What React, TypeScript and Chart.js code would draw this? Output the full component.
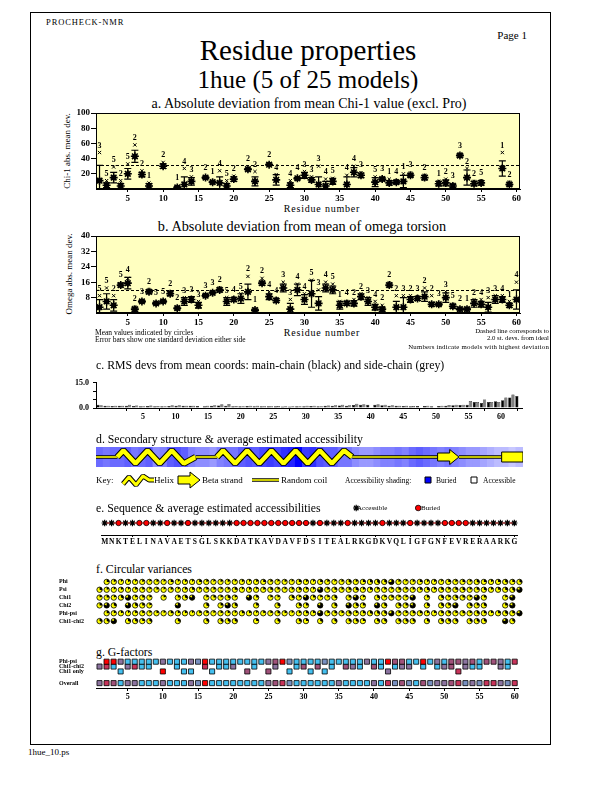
import React, { useEffect, useRef } from "react";
import { Chart, registerables } from "chart.js";

Chart.register(...registerables);

const SERIF = "'Liberation Serif', 'Times New Roman', Times, serif";
Chart.defaults.font.family = SERIF;
Chart.defaults.color = "#000";

// ---------------- DATA ----------------
const sequence = ["M","N","K","T","E","L","I","N","A","V","A","E","T","S","G","L","S","K","K","D","A","T","K","A","V","D","A","V","F","D","S","I","T","E","A","L","R","K","G","D","K","V","Q","L","I","G","F","G","N","F","E","V","R","E","R","A","A","R","K","G"];
const residueNumbers = sequence.map((_, i) => i + 1);
const xTicks = [5, 10, 15, 20, 25, 30, 35, 40, 45, 50, 55, 60];

// a. Chi-1
const chi1Residues = [1,2,3,4,5,6,7,8,10,12,13,14,16,17,18,19,20,22,23,25,26,28,29,30,31,32,33,34,36,37,38,40,41,42,43,44,45,47,49,50,51,52,53,54,55,58,59];
const chi1Mean = [11,5,15,4,20,43,19,4,30,2,6,10,15,9,8,4,13,26,10,32,12,5,14,18,12,6,4,10,6,22,18,9,13,8,9,10,18,15,7,8,4,44,15,7,8,27,6];
const chi1Sd = [20,3,7,3,7,8,3,3,3,1,10,5,1,1,8,3,3,1,6,1,7,3,1,4,3,10,6,4,10,6,3,6,2,3,2,8,2,3,3,4,2,2,10,3,3,10,2];
const chi1Max = [48,11,29,11,33,58,24,8,35,3,27,16,16,10,24,11,17,27,23,33,19,11,15,23,16,30,13,14,18,30,21,16,15,13,11,20,21,18,10,13,6,46,27,10,11,48,9];
const chi1Model = [3,5,5,2,5,2,2,1,2,1,4,3,2,1,4,5,2,2,2,2,4,4,4,3,3,3,4,5,4,4,3,5,3,1,4,1,3,2,1,2,3,3,2,2,5,1,2];
const chi1Cutoff = 32;
const chi1YTicks = [20, 40, 60, 80, 100];

// b. Omega
const omegaMean = [3,6,4,14.5,15.5,2,6,11,5,6,10,2.5,6,7,4,9,10.5,12,6,7,7.5,11,1.5,15.5,8.5,6.5,13,2,12,7,10,5,13,12,4,5,5,8.5,6,3,2,14.5,3,3,7,7.5,8.5,4.5,4.5,8,3.5,2,2,5,4.5,3,7,7,4,7];
const omegaSd = [4,4,3,1,3,1,0.5,1,0.5,0.5,1,0.5,2,1.5,1.5,0.5,0.5,1,2,1,2.5,4,0.5,1,1.5,1,2,3,3,2.5,7,3.5,2,2,2,1,1.5,1.5,2,1.5,1,1,3,5,1.5,1,2.5,1,0.5,2.5,1,0.5,0.5,2,1.5,2.5,2,1.5,1,5];
const omegaMax = [9,13,9,15,18,3,6.5,12,5.5,6.5,11,3,8,8,6,9.5,11,13,8,8,10,19,2,18,11,7.5,16,7,15,10,17,12,16,15,6,6,7,10,8,6,4,15.5,9,9,9,8.5,13,9,5,11,4.5,2.5,2.5,7,7,8,9,9,6,16];
const omegaModel = [5,5,2,5,4,2,3,2,5,5,2,2,3,3,3,3,3,2,5,4,5,2,1,2,4,4,3,3,4,4,5,3,4,5,1,4,2,2,3,4,2,2,2,3,2,3,2,2,3,3,5,2,1,2,4,3,3,4,1,4];
const omegaCutoff = 12;
const omegaYTicks = [8, 16, 24, 32, 40];

// c. RMS devs
const mainChainRms = [2.0,1.4,1.2,1.3,1.3,1.2,1.0,1.2,1.0,1.0,1.2,1.4,1.3,1.3,1.2,1.0,1.3,1.5,1.4,1.0,1.0,1.2,1.1,1.0,1.0,1.0,0.9,0.9,1.0,1.1,1.2,1.0,1.3,1.3,1.5,1.4,1.8,1.9,1.9,1.9,1.6,1.4,1.3,1.2,1.1,1.2,1.2,1.1,1.2,1.4,1.6,1.8,2.0,3.5,3.0,3.5,4.0,4.6,6.2,7.1];
const sideChainRms = [1.6,1.3,1.3,1.4,1.9,1.5,1.0,1.5,1.2,1.1,1.6,1.7,1.4,1.3,0,1.3,1.6,2.2,2.4,1.2,1.1,1.4,1.3,1.0,1.1,1.2,1.0,1.0,1.1,1.3,1.4,1.1,1.5,1.6,2.0,1.6,2.6,2.2,0,2.2,1.9,1.6,1.4,1.3,1.2,0,1.3,0,1.4,1.8,2.0,2.0,4.2,3.5,5.0,3.5,3.5,6.2,8.1,0];
const rmsYTicks = [0, 5, 10, 15];

// d. Secondary structure & burial shading (0 = accessible, 1 = buried)
const secondary = "CCCHHHHHHHHHHHCCCHHHHHHHHHHHHHHHHHHHCCCCCCCCCCCCEEECCCCCCEEE".split("");
const burial = [0.55,0.5,0.55,0.55,0.6,0.5,0.55,0.6,0.4,0.45,0.6,0.65,0.6,0.45,0.4,0.4,0.35,0.45,0.5,0.5,0.6,0.65,0.6,0.7,0.75,0.7,0.8,0.85,1.0,0.75,0.8,0.65,0.6,0.6,0.5,0.5,0.4,0.35,0.35,0.4,0.45,0.45,0.5,0.45,0.55,0.6,0.55,0.5,0.45,0.5,0.45,0.4,0.35,0.35,0.3,0.25,0.2,0.2,0.15,0.2];

// e. Buried residues
const buriedResidues = [3,6,7,10,13,20,21,22,23,24,25,26,27,28,29,30,32,36,41,45,50,51,52,53];

// f. Circular variances
const fRowLabels = ["Phi", "Psi", "Chi1", "Chi2", "Phi-psi", "Chi1-chi2"];
const phiResidues = residueNumbers.slice(1);
const psiResidues = residueNumbers;
const chi2Residues = [1,2,3,5,6,7,8,12,16,18,19,20,23,26,29,30,32,34,36,37,38,40,41,43,44,45,47,49,50,51,53,54,55,58,59];
const phiVar = [0.25,0.2,0.15,0.2,0.15,0.2,0.15,0.2,0.15,0.25,0.15,0.2,0.15,0.25,0.2,0.15,0.2,0.2,0.15,0.2,0.15,0.2,0.25,0.2,0.15,0.2,0.15,0.25,0.2,0.15,0.25,0.2,0.15,0.2,0.3,0.2,0.25,0.3,0.35,0.3,0.75,0.2,0.15,0.2,0.25,0.2,0.2,0.15,0.25,0.2,0.25,0.2,0.3,0.25,0.2,0.25,0.3,0.25,0.3];
const psiVar = [0.3,0.2,0.15,0.2,0.15,0.2,0.2,0.15,0.2,0.15,0.2,0.15,0.2,0.25,0.15,0.2,0.2,0.15,0.2,0.25,0.15,0.2,0.15,0.2,0.25,0.2,0.15,0.2,0.25,0.2,0.15,0.8,0.2,0.25,0.2,0.25,0.3,0.2,0.25,0.2,0.2,0.15,0.25,0.2,0.2,0.25,0.3,0.2,0.25,0.2,0.25,0.3,0.2,0.25,0.3,0.2,0.25,0.3,0.35,0.8];
const chi1Var = [0.2,0.25,0.2,0.3,0.75,0.2,0.25,0.2,0.2,0.25,0.3,0.8,0.2,0.25,0.2,0.3,0.2,0.8,0.25,0.2,0.2,0.3,0.2,0.8,0.25,0.2,0.2,0.3,0.25,0.8,0.2,0.3,0.2,0.25,0.2,0.2,0.8,0.25,0.3,0.2,0.3,0.25,0.2,0.8,0.25,0.2,0.8];
const chi2Var = [0.25,0.8,0.3,0.8,0.3,0.25,0.2,0.8,0.3,0.25,0.8,0.3,0.25,0.3,0.3,0.25,0.8,0.3,0.8,0.3,0.25,0.8,0.3,0.3,0.25,0.8,0.3,0.3,0.25,0.8,0.3,0.25,0.3,0.25,0.8];
const phiPsiVar = [0.25,0.2,0.2,0.15,0.2,0.2,0.15,0.2,0.15,0.25,0.2,0.2,0.15,0.2,0.2,0.15,0.2,0.2,0.15,0.25,0.2,0.15,0.2,0.2,0.25,0.2,0.15,0.2,0.25,0.2,0.8,0.2,0.25,0.2,0.3,0.2,0.25,0.3,0.3,0.3,0.75,0.2,0.2,0.25,0.25,0.2,0.2,0.25,0.25,0.2,0.25,0.2,0.3,0.25,0.2,0.25,0.3,0.25,0.8];
const chi12Var = [0.3,0.3,0.8,0.3,0.3,0.25,0.3,0.3,0.3,0.3,0.3,0.3,0.25,0.3,0.3,0.25,0.3,0.3,0.3,0.3,0.25,0.3,0.3,0.3,0.3,0.3,0.3,0.3,0.3,0.3,0.3,0.3,0.3,0.8,0.3];

// g. G-factors
const gRowLabels = ["Phi-psi", "Chi1-chi2", "Chi1 only", "Overall"];
const chi1OnlyResidues = [4,10,13,14,17,22,25,28,31,33,42,52];
const phiPsiG = [-1.2,-1.1,-0.4,0.2,0.2,0.2,0.2,0.2,-0.4,0.2,0.2,0.2,-0.4,-0.2,-1.2,0.2,0.2,0.2,0.2,0.2,0.2,0.2,0.2,-0.4,-0.6,-1.1,-0.2,0.2,0.2,0.2,0.2,-0.2,0.2,0.2,0.2,0.2,0.2,-0.4,0.2,0.2,-1.2,-0.6,-0.6,0.2,0.2,-1.2,0.2,-0.4,0.2,-0.6,-0.6,-0.4,-0.6,0.2,-0.6,-0.6,-0.4,0.2,-0.8];
const chi12G = [-0.4,-0.8,0.2,-0.4,-0.8,0.2,0.2,0.2,-0.8,0.2,0.2,-0.4,0.2,-0.4,0.2,-0.5,-0.5,0.2,-0.5,-0.4,0.2,-0.5,0.2,0.2,-0.4,-0.4,0.2,0.2,-0.4,-0.6,-0.4,0.2,0.2,-0.4,0.2];
const chi1OnlyG = [0.2,-1.2,0.2,0.2,0.2,-0.6,-0.6,0.2,0.2,0.2,-0.4,-0.8];
const overallG = [-0.45,-0.8,-0.6,0.1,-0.4,-0.4,0.1,0.1,0.1,-0.4,0.1,0.1,0.1,-0.4,-0.2,-1.2,0.1,0.1,0.1,0.1,0.1,0.1,0.1,0.1,-0.4,-0.6,-0.9,-0.2,0.1,0.1,0.1,0.1,0.1,0.1,-0.4,0.1,0.1,0.1,0.1,-0.4,0.1,-0.8,-0.2,-0.6,-0.2,0.1,-0.6,-0.2,-0.4,-0.4,-0.6,-0.8,-0.2,-0.4,-0.2,-0.7,-0.8,-0.4,-0.2,-0.8];

// ---------------- HELPERS ----------------
const YELLOW = "#ffffc0";

function shade(b: number) {
  const c = Math.round(235 * (1 - b));
  return `rgb(${c},${c},255)`;
}
function gColor(g: number) {
  if (g <= -1.0) return "#ff0000";
  if (g <= -0.7) return "#c8345a";
  if (g <= -0.5) return "#a0527a";
  if (g <= -0.3) return "#8c74a0";
  if (g <= -0.1) return "#7890c0";
  return "#44c0f0";
}

const baseOptions = {
  responsive: false,
  maintainAspectRatio: false,
  animation: false,
  events: [],
  plugins: { legend: { display: false }, tooltip: { enabled: false } },
};

function xResidueAxis(height: number, size = 9, tickLen = 3, display = true) {
  return {
    type: "linear",
    display,
    min: 0.5,
    max: 60.5,
    afterBuildTicks: (s: any) => { s.ticks = xTicks.map((value) => ({ value })); },
    afterFit: (s: any) => { s.height = height; },
    grid: { display: true, drawOnChartArea: false, drawTicks: true, tickLength: tickLen, color: "#000", lineWidth: 1 },
    border: { display: true, color: "#000", width: 1 },
    ticks: { color: "#000", font: { family: SERIF, size, weight: "bold" }, padding: 1, maxRotation: 0, autoSkip: false },
  };
}

function devPlugin(res: number[], mean: number[], sd: number[], max: number[], model: number[], cutoff: number) {
  return {
    id: "dev",
    beforeDraw(chart: any) {
      const { ctx, chartArea: a } = chart;
      ctx.save();
      ctx.fillStyle = YELLOW;
      ctx.fillRect(a.left, a.top, a.right - a.left, a.bottom - a.top);
      ctx.restore();
    },
    beforeDatasetsDraw(chart: any) {
      const { ctx, chartArea: a, scales } = chart;
      const xs = scales.x, ys = scales.y;
      ctx.save();
      ctx.strokeStyle = "#000";
      ctx.lineWidth = 1;
      ctx.setLineDash([3, 2]);
      const yc = Math.round(ys.getPixelForValue(cutoff)) + 0.5;
      ctx.beginPath();
      ctx.moveTo(a.left, yc);
      ctx.lineTo(a.right, yc);
      ctx.stroke();
      ctx.setLineDash([]);
      ctx.lineWidth = 1.2;
      res.forEach((r, i) => {
        const x = xs.getPixelForValue(r);
        const lo = Math.max(0, mean[i] - sd[i]);
        const hi = mean[i] + sd[i];
        const y1 = ys.getPixelForValue(lo);
        const y2 = ys.getPixelForValue(hi);
        ctx.beginPath();
        ctx.moveTo(x, y1);
        ctx.lineTo(x, y2);
        ctx.moveTo(x - 3.5, y2);
        ctx.lineTo(x + 3.5, y2);
        if (lo > 0) {
          ctx.moveTo(x - 3.5, y1);
          ctx.lineTo(x + 3.5, y1);
        }
        ctx.stroke();
      });
      ctx.restore();
    },
    afterDatasetsDraw(chart: any) {
      const { ctx, chartArea: a, scales } = chart;
      const xs = scales.x, ys = scales.y;
      ctx.save();
      ctx.fillStyle = "#000";
      ctx.font = `bold 8px ${SERIF}`;
      ctx.textAlign = "center";
      ctx.textBaseline = "bottom";
      res.forEach((r, i) => {
        const x = xs.getPixelForValue(r);
        const top = Math.min(ys.getPixelForValue(max[i]), ys.getPixelForValue(mean[i] + sd[i]), ys.getPixelForValue(mean[i]) - 3);
        ctx.fillText(String(model[i]), x, top - 3);
      });
      ctx.strokeStyle = "#000";
      ctx.lineWidth = 1;
      ctx.strokeRect(a.left + 0.5, a.top + 0.5, a.right - a.left - 1, a.bottom - a.top - 1);
      ctx.restore();
    },
  };
}

function devConfig(res: number[], mean: number[], sd: number[], max: number[], model: number[], cutoff: number, yMax: number, yTicks: number[]) {
  return () => ({
    type: "scatter",
    data: {
      datasets: [
        { data: res.map((r, i) => ({ x: r, y: max[i] })), pointStyle: "crossRot", pointRadius: 2.3, pointBorderColor: "#000", pointBorderWidth: 1, pointBackgroundColor: "#000" },
        { data: res.map((r, i) => ({ x: r, y: mean[i] })), pointStyle: "star", pointRadius: 4, pointBorderColor: "#000", pointBorderWidth: 1.6, pointBackgroundColor: "#000" },
        { data: res.map((r, i) => ({ x: r, y: mean[i] })), pointStyle: "circle", pointRadius: 2.6, pointBorderColor: "#000", pointBorderWidth: 0, pointBackgroundColor: "#000" },
      ],
    },
    options: {
      ...baseOptions,
      layout: { padding: { top: 8, right: 10, left: 0, bottom: 0 } },
      scales: {
        x: xResidueAxis(21, 9, 3),
        y: {
          type: "linear",
          min: 0,
          max: yMax,
          afterBuildTicks: (s: any) => { s.ticks = yTicks.map((value) => ({ value })); },
          afterFit: (s: any) => { s.width = 46; },
          grid: { display: true, drawOnChartArea: false, drawTicks: true, tickLength: 5, color: "#000" },
          border: { display: true, color: "#000" },
          ticks: { color: "#000", font: { family: SERIF, size: 9, weight: "bold" }, padding: 1, autoSkip: false },
        },
      },
    },
    plugins: [devPlugin(res, mean, sd, max, model, cutoff)],
  });
}

function rmsConfig() {
  return {
    type: "bar",
    data: {
      labels: sequence,
      datasets: [
        { data: mainChainRms, backgroundColor: "#000", borderColor: "#000", borderWidth: 0.5, categoryPercentage: 0.9, barPercentage: 1.0 },
        { data: sideChainRms, backgroundColor: "#808080", borderColor: "#000", borderWidth: 0.5, categoryPercentage: 0.9, barPercentage: 1.0 },
      ],
    },
    options: {
      ...baseOptions,
      layout: { padding: { top: 8, right: 8, left: 0, bottom: 0 } },
      scales: {
        x: { type: "category", display: false, offset: true },
        x2: { ...xResidueAxis(14, 8, 3), position: "bottom" },
        y: {
          type: "linear",
          min: 0,
          max: 15,
          afterBuildTicks: (s: any) => { s.ticks = rmsYTicks.map((value) => ({ value })); },
          afterFit: (s: any) => { s.width = 46; },
          grid: { display: true, drawOnChartArea: false, drawTicks: true, tickLength: 3, color: "#000" },
          border: { display: true, color: "#000" },
          ticks: {
            color: "#000",
            font: { family: SERIF, size: 8, weight: "bold" },
            padding: 4,
            autoSkip: false,
            callback: (v: number) => (v === 0 || v === 15 ? v.toFixed(1) : ""),
          },
        },
      },
    },
  };
}

function strokeFill(ctx: any, pts: number[][], outer: number, inner: number) {
  ctx.lineJoin = "bevel";
  ctx.beginPath();
  pts.forEach(([x, y], k) => (k ? ctx.lineTo(x, y) : ctx.moveTo(x, y)));
  ctx.strokeStyle = "#000";
  ctx.lineWidth = outer;
  ctx.stroke();
  ctx.strokeStyle = "#ffff00";
  ctx.lineWidth = inner;
  ctx.stroke();
}

function drawHelix(ctx: any, x0: number, x1: number, top: number, bot: number, period: number) {
  const mid = (top + bot) / 2;
  const pts: number[][] = [[x0, mid]];
  let x = x0 + period / 4;
  let up = true;
  while (x < x1 - period / 8) {
    pts.push([x, up ? top : bot]);
    up = !up;
    x += period / 2;
  }
  pts.push([x1, mid]);
  strokeFill(ctx, pts, 6.5, 4.5);
}

function drawStrand(ctx: any, x0: number, x1: number, mid: number, arrow: boolean, w: number) {
  ctx.beginPath();
  if (arrow) {
    const hl = Math.min(1.3 * w, (x1 - x0) * 0.5);
    ctx.moveTo(x0, mid - 4);
    ctx.lineTo(x1 - hl, mid - 4);
    ctx.lineTo(x1 - hl, mid - 7.5);
    ctx.lineTo(x1, mid);
    ctx.lineTo(x1 - hl, mid + 7.5);
    ctx.lineTo(x1 - hl, mid + 4);
    ctx.lineTo(x0, mid + 4);
    ctx.closePath();
  } else {
    ctx.rect(x0, mid - 5, x1 - x0, 10);
  }
  ctx.fillStyle = "#ffff00";
  ctx.fill();
  ctx.strokeStyle = "#000";
  ctx.lineWidth = 1;
  ctx.stroke();
}

const ssPlugin = {
  id: "ss",
  afterDatasetsDraw(chart: any) {
    const { ctx, chartArea: a } = chart;
    const xs = chart.scales.x;
    const w = xs.getPixelForValue(1) - xs.getPixelForValue(0);
    const mid = (a.top + a.bottom) / 2;
    ctx.save();
    let i = 0;
    while (i < secondary.length) {
      let j = i;
      while (j + 1 < secondary.length && secondary[j + 1] === secondary[i]) j++;
      const x0 = xs.getPixelForValue(i) - w / 2;
      const x1 = xs.getPixelForValue(j) + w / 2;
      const t = secondary[i];
      if (t === "C") strokeFill(ctx, [[x0, mid], [x1, mid]], 3.5, 1.6);
      else if (t === "H") drawHelix(ctx, x0, x1, a.top + 3.5, a.bottom - 3.5, w * 3.4);
      else drawStrand(ctx, x0, x1, mid, j < secondary.length - 1, w);
      i = j + 1;
    }
    // key glyphs
    const kx = a.left;
    const ky = a.bottom + 13;
    strokeFill(ctx, [[kx + 27, ky + 4], [kx + 33, ky - 3], [kx + 40, ky + 5], [kx + 47, ky - 4], [kx + 53, ky], [kx + 58, ky]], 5, 3);
    ctx.beginPath();
    ctx.moveTo(kx + 82, ky - 4);
    ctx.lineTo(kx + 94, ky - 4);
    ctx.lineTo(kx + 94, ky - 8);
    ctx.lineTo(kx + 104, ky);
    ctx.lineTo(kx + 94, ky + 8);
    ctx.lineTo(kx + 94, ky + 4);
    ctx.lineTo(kx + 82, ky + 4);
    ctx.closePath();
    ctx.fillStyle = "#ffff00";
    ctx.fill();
    ctx.strokeStyle = "#000";
    ctx.lineWidth = 1;
    ctx.stroke();
    strokeFill(ctx, [[kx + 156, ky], [kx + 183, ky]], 3.5, 1.6);
    ctx.fillStyle = "#0000ff";
    ctx.fillRect(kx + 329, ky - 3, 6, 6);
    ctx.strokeStyle = "#000";
    ctx.lineWidth = 1;
    ctx.strokeRect(kx + 329, ky - 3, 6, 6);
    ctx.fillStyle = "#fff";
    ctx.fillRect(kx + 375, ky - 3, 6, 6);
    ctx.strokeRect(kx + 375, ky - 3, 6, 6);
    ctx.restore();
  },
};

function ssConfig() {
  return {
    type: "bar",
    data: {
      labels: sequence,
      datasets: [
        { data: sequence.map(() => 1), backgroundColor: burial.map(shade), borderWidth: 0, barPercentage: 1, categoryPercentage: 1 },
      ],
    },
    options: {
      ...baseOptions,
      layout: { padding: { top: 0, right: 0, left: 0, bottom: 22 } },
      scales: {
        x: { type: "category", display: false, offset: true },
        y: { type: "linear", display: false, min: 0, max: 1 },
      },
    },
    plugins: [ssPlugin],
  };
}

function drawStar(ctx: any, x: number, y: number, r: number) {
  ctx.beginPath();
  for (let k = 0; k < 4; k++) {
    const ang = (k * Math.PI) / 4;
    ctx.moveTo(x - r * Math.cos(ang), y - r * Math.sin(ang));
    ctx.lineTo(x + r * Math.cos(ang), y + r * Math.sin(ang));
  }
  ctx.strokeStyle = "#000";
  ctx.lineWidth = 1.2;
  ctx.stroke();
}

const seqLegendPlugin = {
  id: "seqLegend",
  afterDraw(chart: any) {
    const { ctx, chartArea: a } = chart;
    ctx.save();
    drawStar(ctx, a.left + 255, a.top - 9, 3.2);
    ctx.beginPath();
    ctx.arc(a.left + 317, a.top - 9, 2.8, 0, Math.PI * 2);
    ctx.fillStyle = "#ff0000";
    ctx.fill();
    ctx.strokeStyle = "#000";
    ctx.lineWidth = 0.8;
    ctx.stroke();
    ctx.restore();
  },
};

function seqConfig() {
  const isBuried = (i: number) => buriedResidues.includes(i + 1);
  return {
    type: "scatter",
    data: {
      datasets: [
        {
          data: residueNumbers.map((r) => ({ x: r, y: 0 })),
          showLine: true,
          borderColor: "#ff0000",
          borderWidth: 1,
          pointStyle: (c: any) => (isBuried(c.dataIndex) ? "circle" : "star"),
          pointRadius: (c: any) => (isBuried(c.dataIndex) ? 2.7 : 3.2),
          pointBackgroundColor: (c: any) => (isBuried(c.dataIndex) ? "#ff0000" : "#000"),
          pointBorderColor: "#000",
          pointBorderWidth: (c: any) => (isBuried(c.dataIndex) ? 0.8 : 1.2),
        },
      ],
    },
    options: {
      ...baseOptions,
      layout: { padding: { top: 15, right: 0, left: 0, bottom: 0 } },
      scales: {
        x: { type: "linear", display: false, min: 0.5, max: 60.5 },
        x2: {
          type: "category",
          labels: sequence,
          position: "bottom",
          offset: true,
          afterFit: (s: any) => { s.height = 13; },
          grid: {
            display: true,
            drawOnChartArea: false,
            drawTicks: true,
            tickLength: 2,
            offset: false,
            color: (c: any) => ((c.index + 1) % 5 === 0 ? "#000" : "rgba(0,0,0,0)"),
          },
          border: { display: true, color: "#000", width: 1 },
          ticks: { color: "#000", font: { family: SERIF, size: 7.5, weight: "bold" }, padding: 1, autoSkip: false, maxRotation: 0 },
        },
        y: { type: "linear", display: false, min: -2, max: 1 },
      },
    },
    plugins: [seqLegendPlugin],
  };
}

const cvPlugin = {
  id: "cv",
  afterDatasetsDraw(chart: any) {
    const ctx = chart.ctx;
    ctx.save();
    chart.data.datasets.forEach((ds: any, di: number) => {
      const meta = chart.getDatasetMeta(di);
      meta.data.forEach((el: any, i: number) => {
        const v = ds.data[i].v;
        const x = el.x, y = el.y, r = 2.7;
        ctx.beginPath();
        ctx.arc(x, y, r, 0, Math.PI * 2);
        ctx.fillStyle = "#ffff00";
        ctx.fill();
        ctx.beginPath();
        ctx.moveTo(x, y);
        ctx.arc(x, y, r, -Math.PI / 2, -Math.PI / 2 + v * Math.PI * 2);
        ctx.closePath();
        ctx.fillStyle = "#000";
        ctx.fill();
        ctx.beginPath();
        ctx.arc(x, y, r, 0, Math.PI * 2);
        ctx.strokeStyle = "#000";
        ctx.lineWidth = 0.8;
        ctx.stroke();
      });
    });
    ctx.restore();
  },
};

function rowAxis(labels: string[], positions: number[], min: number, max: number, width: number) {
  return {
    type: "linear",
    reverse: true,
    min,
    max,
    afterBuildTicks: (s: any) => { s.ticks = positions.map((value) => ({ value })); },
    afterFit: (s: any) => { s.width = width; },
    grid: { display: false },
    border: { display: false },
    ticks: {
      color: "#000",
      font: { family: SERIF, size: 6, weight: "bold" },
      padding: 0,
      crossAlign: "far",
      autoSkip: false,
      callback: (_v: number, idx: number) => labels[idx],
    },
  };
}

function cvConfig() {
  const rows = [
    { res: phiResidues, v: phiVar },
    { res: psiResidues, v: psiVar },
    { res: chi1Residues, v: chi1Var },
    { res: chi2Residues, v: chi2Var },
    { res: phiResidues, v: phiPsiVar },
    { res: chi2Residues, v: chi12Var },
  ];
  return {
    type: "scatter",
    data: {
      datasets: rows.map((row, k) => ({
        data: row.res.map((r, i) => ({ x: r, y: k + 1, v: row.v[i] })),
        pointRadius: 0,
      })),
    },
    options: {
      ...baseOptions,
      layout: { padding: { top: 4, right: 0, left: 0, bottom: 4 } },
      scales: {
        x: { type: "linear", display: false, min: 0.5, max: 60.5 },
        y: rowAxis(fRowLabels, [1, 2, 3, 4, 5, 6], 0.5, 6.5, 37),
      },
    },
    plugins: [cvPlugin],
  };
}

function gConfig() {
  const rows = [
    { res: phiResidues, g: phiPsiG, y: 1 },
    { res: chi2Residues, g: chi12G, y: 2 },
    { res: chi1OnlyResidues, g: chi1OnlyG, y: 3 },
    { res: residueNumbers, g: overallG, y: 5.4 },
  ];
  return {
    type: "scatter",
    data: {
      datasets: rows.map((row) => ({
        data: row.res.map((r, i) => ({ x: r, y: row.y, g: row.g[i] })),
        pointStyle: "rect",
        pointRadius: 3.6,
        pointBackgroundColor: (c: any) => gColor(c.raw ? c.raw.g : 0),
        pointBorderColor: "#000",
        pointBorderWidth: 0.8,
      })),
    },
    options: {
      ...baseOptions,
      layout: { padding: { top: 4, right: 0, left: 0, bottom: 0 } },
      scales: {
        x: xResidueAxis(14, 8, 3),
        y: rowAxis(gRowLabels, rows.map((r) => r.y), 0, 6.4, 37),
      },
    },
  };
}

// ---------------- COMPONENTS ----------------
function ChartBox({ x, y, w, h, make }: { x: number; y: number; w: number; h: number; make: () => any }) {
  const ref = useRef<HTMLCanvasElement | null>(null);
  useEffect(() => {
    if (!ref.current) return;
    const chart = new Chart(ref.current, make());
    return () => chart.destroy();
  }, []);
  return (
    <div style={{ position: "absolute", left: x, top: y, width: w, height: h }}>
      <canvas ref={ref} width={w} height={h} style={{ width: w, height: h, display: "block" }} />
    </div>
  );
}

function Txt({ x, y, size, text, align = "left", bold = false, spacing = 0 }: any) {
  const tx = align === "center" ? "-50%" : align === "right" ? "-100%" : "0";
  return (
    <div
      style={{
        position: "absolute",
        left: x,
        top: y - size * 0.6,
        fontFamily: SERIF,
        fontSize: size,
        lineHeight: `${size * 1.2}px`,
        whiteSpace: "nowrap",
        fontWeight: bold ? "bold" : "normal",
        letterSpacing: spacing,
        transform: `translateX(${tx})`,
        color: "#000",
      }}
    >
      {text}
    </div>
  );
}

function RotTxt({ x, y, size, text }: any) {
  return (
    <div
      style={{
        position: "absolute",
        left: x,
        top: y,
        fontFamily: SERIF,
        fontSize: size,
        lineHeight: `${size * 1.2}px`,
        whiteSpace: "nowrap",
        transform: "translate(-50%, -50%) rotate(-90deg)",
        color: "#000",
      }}
    >
      {text}
    </div>
  );
}

export default function App() {
  return (
    <div style={{ position: "absolute", left: 0, top: 0, width: 612, height: 792, background: "#fff", overflow: "hidden" }}>
      <div style={{ position: "absolute", left: 30, top: 12, width: 521, height: 733, border: "1px solid #000", boxSizing: "border-box" }} />
      <Txt x={46} y={22} size={8.5} text="PROCHECK-NMR" spacing={0.9} />
      <Txt x={527} y={36} size={11} text="Page  1" align="right" />
      <Txt x={308} y={50} size={29} text="Residue properties" align="center" />
      <Txt x={308} y={80} size={25} text="1hue (5 of 25 models)" align="center" />

      <Txt x={309} y={104} size={14} text="a. Absolute deviation from mean Chi-1 value (excl. Pro)" align="center" />
      <RotTxt x={67} y={151} size={9} text="Chi-1 abs. mean dev." />
      <Txt x={322} y={209} size={10} text="Residue number" align="center" spacing={0.8} />
      <ChartBox x={50} y={105} w={480} h={105} make={devConfig(chi1Residues, chi1Mean, chi1Sd, chi1Max, chi1Model, chi1Cutoff, 100, chi1YTicks)} />

      <Txt x={302} y={227} size={14.3} text="b. Absolute deviation from mean of omega torsion" align="center" />
      <RotTxt x={69} y={274} size={9} text="Omega abs. mean dev." />
      <Txt x={322} y={333} size={10} text="Residue number" align="center" spacing={0.8} />
      <ChartBox x={50} y={228} w={480} h={106} make={devConfig(residueNumbers, omegaMean, omegaSd, omegaMax, omegaModel, omegaCutoff, 40, omegaYTicks)} />
      <Txt x={95} y={332} size={7.5} text="Mean values indicated by circles" />
      <Txt x={95} y={339} size={7.5} text="Error bars show one standard deviation either side" />
      <Txt x={549} y={331} size={6.8} text="Dashed line corresponds to" align="right" />
      <Txt x={549} y={338} size={6.8} text="2.0 st. devs. from ideal" align="right" />
      <Txt x={549} y={347} size={6.8} text="Numbers indicate models with highest deviation" align="right" spacing={0.2} />

      <Txt x={96} y={365} size={11.8} text="c. RMS devs from mean coords: main-chain (black) and side-chain (grey)" />
      <ChartBox x={50} y={374} w={480} h={48} make={rmsConfig} />

      <Txt x={96} y={439} size={11.8} text="d. Secondary structure & average estimated accessibility" />
      <ChartBox x={96} y={447} w={427} h={42} make={ssConfig} />
      <Txt x={96} y={480} size={9} text="Key:" />
      <Txt x={154} y={480} size={9} text="Helix" />
      <Txt x={202} y={480} size={9} text="Beta strand" />
      <Txt x={281} y={480} size={9} text="Random  coil" />
      <Txt x={345} y={480} size={7.5} text="Accessibility shading:" />
      <Txt x={436} y={480} size={7.5} text="Buried" />
      <Txt x={483} y={480} size={7.5} text="Accessible" />

      <Txt x={96} y={508} size={11.8} text="e. Sequence & average estimated accessibilities" />
      <Txt x={357} y={508} size={7} text="Accessible" />
      <Txt x={421} y={508} size={7} text="Buried" />
      <ChartBox x={96} y={502} w={427} h={46} make={seqConfig} />

      <Txt x={96} y={569} size={11.8} text="f. Circular variances" />
      <ChartBox x={59} y={574} w={464} h={55} make={cvConfig} />

      <Txt x={96} y={652} size={11.8} text="g. G-factors" />
      <ChartBox x={59} y={652} w={464} h={50} make={gConfig} />

      <Txt x={28} y={752} size={9} text="1hue_10.ps" />
    </div>
  );
}
